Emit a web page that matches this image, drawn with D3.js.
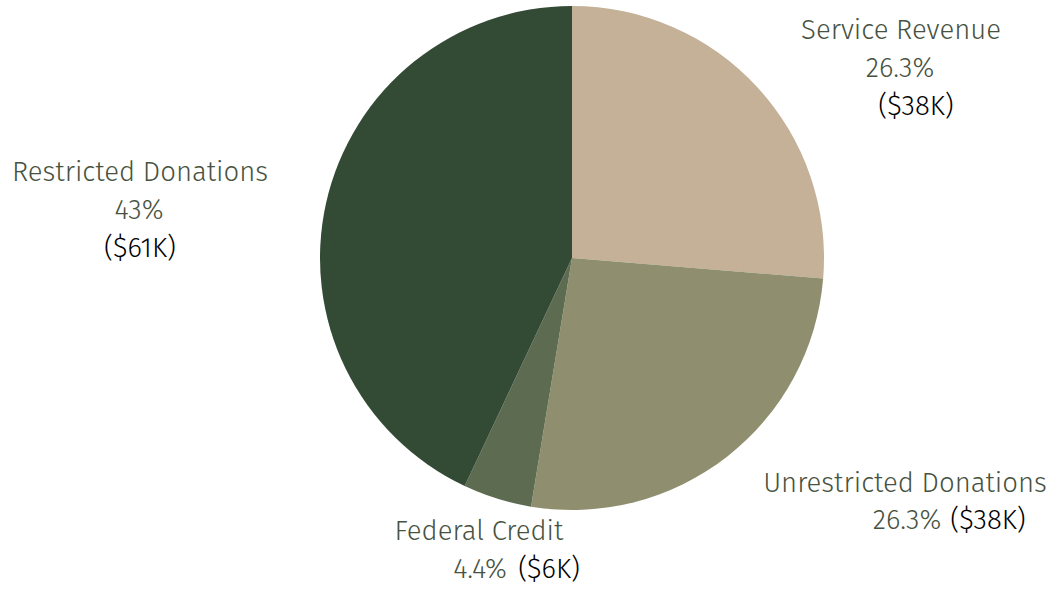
<!DOCTYPE html>
<html>
<head>
<meta charset="utf-8">
<script src="https://cdn.jsdelivr.net/npm/d3@7"></script>
<style>
  html, body { margin: 0; padding: 0; background: #fff; }
  svg { display: block; font-family: "Fira Sans", "Open Sans", sans-serif; }
</style>
</head>
<body>
<div id="chart"></div>
<script>
// Revenue mix pie
const categories = ["Service Revenue", "Unrestricted Donations", "Federal Credit", "Restricted Donations"];
const shares = [26.3, 26.3, 4.4, 43];          // percent of total
const amounts = ["$38K", "$38K", "$6K", "$61K"];
const sliceColors = ["#c4b197", "#8f8f70", "#5d6b51", "#334a35"];

const width = 1056, height = 590;
const cx = 572, cy = 258, radius = 252;

// label placement (name line, pct, value) - hand tuned
const labelLayout = [
  { name: [901, 39], pct: [900, 77], val: [916, 115] },
  { name: [905, 492], pct: [907, 529], val: [988, 529] },
  { name: [479, 540], pct: [480, 578], val: [549, 578] },
  { name: [140, 181], pct: [139, 219], val: [140, 257] }
];

const data = categories.map((c, i) => ({ name: c, share: shares[i], amount: amounts[i], color: sliceColors[i], pos: labelLayout[i] }));

const svg = d3.select('#chart').append('svg')
  .attr('width', width)
  .attr('height', height);

const pie = d3.pie().sort(null).value(d => d.share);
const arc = d3.arc().innerRadius(0).outerRadius(radius);

const g = svg.append('g').attr('transform', `translate(${cx},${cy})`);
g.selectAll('path')
  .data(pie(data))
  .join('path')
  .attr('d', arc)
  .attr('fill', d => d.data.color);

const labels = svg.append('g')
  .attr('font-size', 27.5)
  .attr('font-weight', 300)
  .attr('text-anchor', 'middle');

labels.selectAll('text.name').data(data).join('text')
  .attr('class', 'name')
  .attr('x', d => d.pos.name[0]).attr('y', d => d.pos.name[1])
  .attr('fill', '#475240')
  .text(d => d.name);

labels.selectAll('text.pct').data(data).join('text')
  .attr('class', 'pct')
  .attr('x', d => d.pos.pct[0]).attr('y', d => d.pos.pct[1])
  .attr('fill', '#475240')
  .text(d => d.share + '%');

labels.selectAll('text.val').data(data).join('text')
  .attr('class', 'val')
  .attr('x', d => d.pos.val[0]).attr('y', d => d.pos.val[1])
  .attr('fill', '#000')
  .text(d => `(${d.amount})`);
</script>
</body>
</html>
